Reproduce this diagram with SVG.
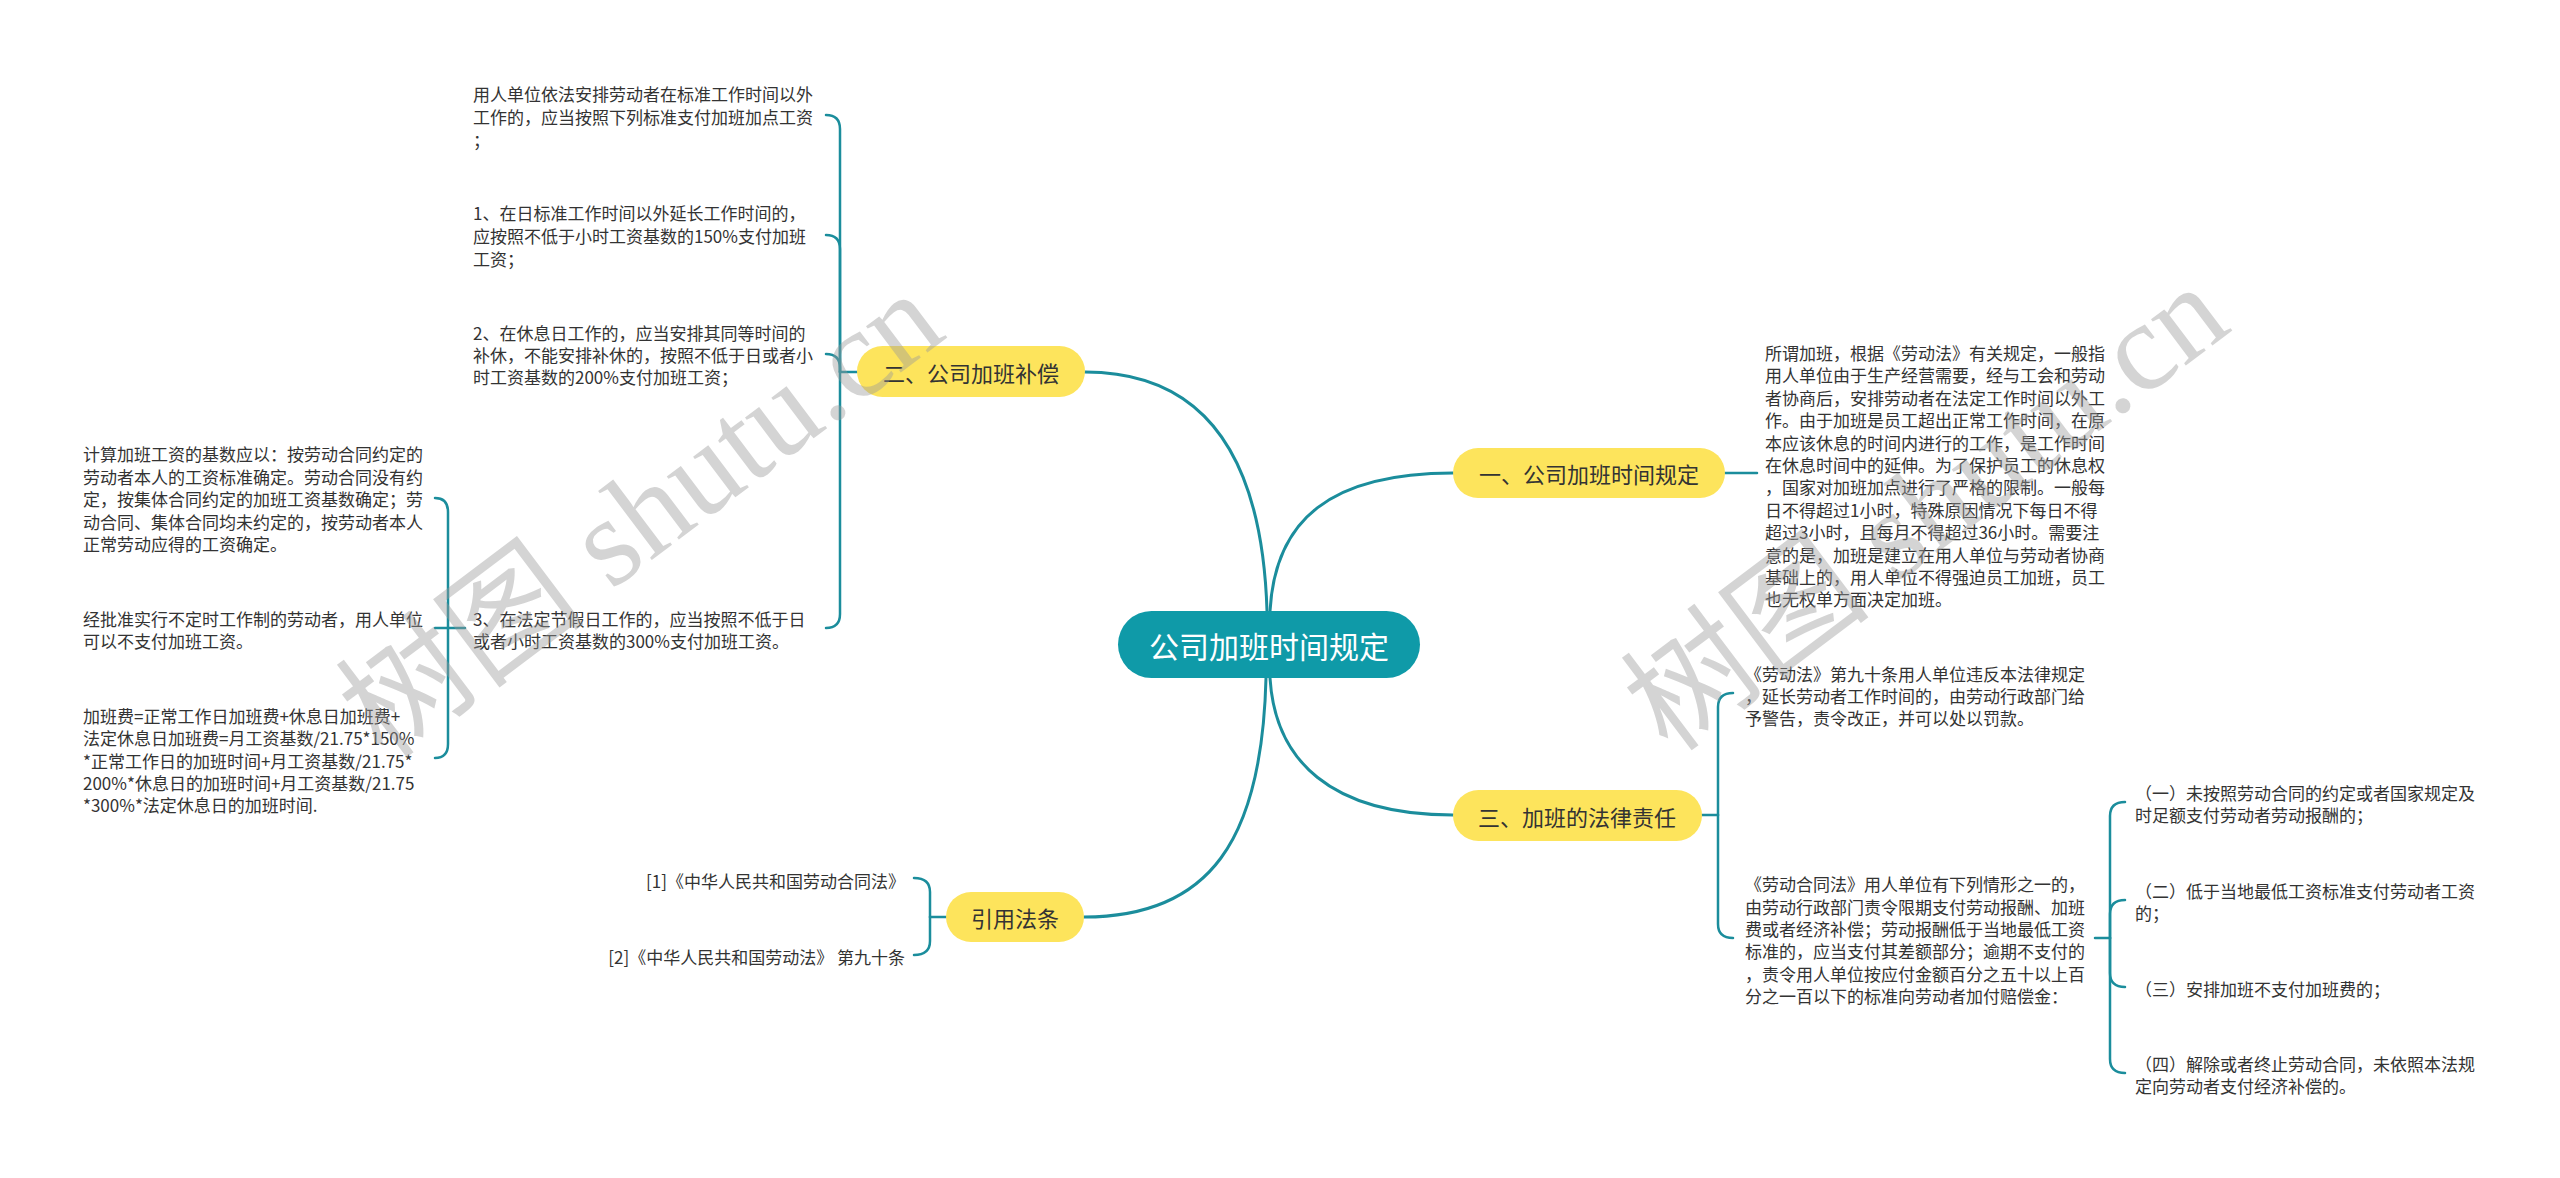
<svg xmlns="http://www.w3.org/2000/svg" width="2560" height="1178" viewBox="0 0 2560 1178">
<style>
.bg{fill:#ffffff}
.main{fill:none;stroke:#1b8d9c;stroke-width:3;stroke-linecap:round}
.sub{fill:none;stroke:#1b8d9c;stroke-width:2.5;stroke-linecap:round}
.root rect{fill:#0f9aa8}
.root text{fill:#ffffff;font-family:"Noto Sans CJK SC","Noto Sans",sans-serif;font-size:30px;text-anchor:middle;dominant-baseline:central}
.l1 rect{fill:#fde45c}
.l1 text{fill:#333333;font-family:"Noto Sans CJK SC","Noto Sans",sans-serif;font-size:22px;text-anchor:middle;dominant-baseline:central}
.leaf text{fill:#333333;font-family:"Noto Sans CJK SC","Noto Sans",sans-serif;font-size:17px;dominant-baseline:central}
.wm{fill:#9a9a9a;opacity:0.42;font-family:"Liberation Serif","Noto Sans CJK SC",serif;font-size:126px;text-anchor:middle;dominant-baseline:central}
</style>
<rect class="bg" x="0" y="0" width="2560" height="1178"/>

<g id="connectors">
  <path class="main" d="M1267,611 C1262,450 1200,372 1085,372"/>
  <path class="main" d="M1270,611 C1275,520 1330,473 1453,473"/>
  <path class="main" d="M1270,678 C1275,760 1330,815 1453,815"/>
  <path class="main" d="M1266,678 C1262,840 1210,917 1084,917"/>

  <path class="sub" d="M857,372 H840"/>
  <path class="sub" d="M840,372 V129 Q840,115 826,115"/>
  <path class="sub" d="M840,372 V249 Q840,235 826,235"/>
  <path class="sub" d="M840,372 V368 Q840,354 826,354"/>
  <path class="sub" d="M840,372 V614 Q840,628 826,628"/>

  <path class="sub" d="M465,628 H435"/>
  <path class="sub" d="M448,628 V512 Q448,498 435,498"/>
  <path class="sub" d="M448,628 V744 Q448,758 435,758"/>

  <path class="sub" d="M1725,473 H1757"/>

  <path class="sub" d="M1702,815 H1718"/>
  <path class="sub" d="M1718,815 V707 Q1718,693 1733,693"/>
  <path class="sub" d="M1718,815 V924 Q1718,938 1733,938"/>

  <path class="sub" d="M2095,938 H2110"/>
  <path class="sub" d="M2110,938 V816 Q2110,802 2125,802"/>
  <path class="sub" d="M2110,938 V914 Q2110,900 2125,900"/>
  <path class="sub" d="M2110,938 V973 Q2110,987 2125,987"/>
  <path class="sub" d="M2110,938 V1059 Q2110,1073 2125,1073"/>

  <path class="sub" d="M946,917 H930"/>
  <path class="sub" d="M930,917 V892 Q930,878 914,878"/>
  <path class="sub" d="M930,917 V941 Q930,955 914,955"/>
</g>

<g id="root" class="root">
  <rect x="1118" y="611" width="302" height="67" rx="33.5"/>
  <text x="1269" y="645">公司加班时间规定</text>
</g>

<g id="n1" class="l1">
  <rect x="1453" y="448" width="272" height="50" rx="25"/>
  <text x="1589" y="473">一、公司加班时间规定</text>
</g>
<g id="n2" class="l1">
  <rect x="857" y="346" width="228" height="51" rx="25.5"/>
  <text x="971" y="372">二、公司加班补偿</text>
</g>
<g id="n3" class="l1">
  <rect x="1453" y="790" width="249" height="51" rx="25.5"/>
  <text x="1577" y="816">三、加班的法律责任</text>
</g>
<g id="n4" class="l1">
  <rect x="946" y="892" width="138" height="50" rx="25"/>
  <text x="1015" y="917">引用法条</text>
</g>

<g id="n1-1" class="leaf">
  <text>
    <tspan x="1765" y="352">所谓加班，根据《劳动法》有关规定，一般指</tspan>
    <tspan x="1765" y="374">用人单位由于生产经营需要，经与工会和劳动</tspan>
    <tspan x="1765" y="397">者协商后，安排劳动者在法定工作时间以外工</tspan>
    <tspan x="1765" y="419">作。由于加班是员工超出正常工作时间，在原</tspan>
    <tspan x="1765" y="442">本应该休息的时间内进行的工作，是工作时间</tspan>
    <tspan x="1765" y="464">在休息时间中的延伸。为了保护员工的休息权</tspan>
    <tspan x="1765" y="486">，国家对加班加点进行了严格的限制。一般每</tspan>
    <tspan x="1765" y="509">日不得超过1小时，特殊原因情况下每日不得</tspan>
    <tspan x="1765" y="531">超过3小时，且每月不得超过36小时。需要注</tspan>
    <tspan x="1765" y="554">意的是，加班是建立在用人单位与劳动者协商</tspan>
    <tspan x="1765" y="576">基础上的，用人单位不得强迫员工加班，员工</tspan>
    <tspan x="1765" y="598">也无权单方面决定加班。</tspan>
  </text>
</g>

<g id="n2-1" class="leaf">
  <text>
    <tspan x="473" y="93">用人单位依法安排劳动者在标准工作时间以外</tspan>
    <tspan x="473" y="116">工作的，应当按照下列标准支付加班加点工资</tspan>
    <tspan x="473" y="139">；</tspan>
  </text>
</g>
<g id="n2-2" class="leaf">
  <text>
    <tspan x="473" y="212">1、在日标准工作时间以外延长工作时间的，</tspan>
    <tspan x="473" y="235">应按照不低于小时工资基数的150%支付加班</tspan>
    <tspan x="473" y="258">工资；</tspan>
  </text>
</g>
<g id="n2-3" class="leaf">
  <text>
    <tspan x="473" y="332">2、在休息日工作的，应当安排其同等时间的</tspan>
    <tspan x="473" y="354">补休，不能安排补休的，按照不低于日或者小</tspan>
    <tspan x="473" y="376">时工资基数的200%支付加班工资；</tspan>
  </text>
</g>
<g id="n2-4" class="leaf">
  <text>
    <tspan x="473" y="618">3、在法定节假日工作的，应当按照不低于日</tspan>
    <tspan x="473" y="640">或者小时工资基数的300%支付加班工资。</tspan>
  </text>
</g>

<g id="n2-4-1" class="leaf">
  <text>
    <tspan x="83" y="453">计算加班工资的基数应以：按劳动合同约定的</tspan>
    <tspan x="83" y="476">劳动者本人的工资标准确定。劳动合同没有约</tspan>
    <tspan x="83" y="498">定，按集体合同约定的加班工资基数确定；劳</tspan>
    <tspan x="83" y="521">动合同、集体合同均未约定的，按劳动者本人</tspan>
    <tspan x="83" y="543">正常劳动应得的工资确定。</tspan>
  </text>
</g>
<g id="n2-4-2" class="leaf">
  <text>
    <tspan x="83" y="618">经批准实行不定时工作制的劳动者，用人单位</tspan>
    <tspan x="83" y="640">可以不支付加班工资。</tspan>
  </text>
</g>
<g id="n2-4-3" class="leaf">
  <text>
    <tspan x="83" y="715">加班费=正常工作日加班费+休息日加班费+</tspan>
    <tspan x="83" y="737">法定休息日加班费=月工资基数/21.75*150%</tspan>
    <tspan x="83" y="760">*正常工作日的加班时间+月工资基数/21.75*</tspan>
    <tspan x="83" y="782">200%*休息日的加班时间+月工资基数/21.75</tspan>
    <tspan x="83" y="804">*300%*法定休息日的加班时间.</tspan>
  </text>
</g>

<g id="n3-1" class="leaf">
  <text>
    <tspan x="1745" y="673">《劳动法》第九十条用人单位违反本法律规定</tspan>
    <tspan x="1745" y="695">，延长劳动者工作时间的，由劳动行政部门给</tspan>
    <tspan x="1745" y="717">予警告，责令改正，并可以处以罚款。</tspan>
  </text>
</g>
<g id="n3-2" class="leaf">
  <text>
    <tspan x="1745" y="883">《劳动合同法》用人单位有下列情形之一的，</tspan>
    <tspan x="1745" y="906">由劳动行政部门责令限期支付劳动报酬、加班</tspan>
    <tspan x="1745" y="928">费或者经济补偿；劳动报酬低于当地最低工资</tspan>
    <tspan x="1745" y="950">标准的，应当支付其差额部分；逾期不支付的</tspan>
    <tspan x="1745" y="973">，责令用人单位按应付金额百分之五十以上百</tspan>
    <tspan x="1745" y="995">分之一百以下的标准向劳动者加付赔偿金：</tspan>
  </text>
</g>

<g id="n3-2-1" class="leaf">
  <text>
    <tspan x="2135" y="792">（一）未按照劳动合同的约定或者国家规定及</tspan>
    <tspan x="2135" y="814">时足额支付劳动者劳动报酬的；</tspan>
  </text>
</g>
<g id="n3-2-2" class="leaf">
  <text>
    <tspan x="2135" y="890">（二）低于当地最低工资标准支付劳动者工资</tspan>
    <tspan x="2135" y="912">的；</tspan>
  </text>
</g>
<g id="n3-2-3" class="leaf">
  <text>
    <tspan x="2135" y="988">（三）安排加班不支付加班费的；</tspan>
  </text>
</g>
<g id="n3-2-4" class="leaf">
  <text>
    <tspan x="2135" y="1063">（四）解除或者终止劳动合同，未依照本法规</tspan>
    <tspan x="2135" y="1085">定向劳动者支付经济补偿的。</tspan>
  </text>
</g>

<g id="n4-1" class="leaf">
  <text x="905" y="880" text-anchor="end">[1]《中华人民共和国劳动合同法》</text>
</g>
<g id="n4-2" class="leaf">
  <text x="905" y="956" text-anchor="end">[2]《中华人民共和国劳动法》 第九十条</text>
</g>

<g id="watermarks">
  <text class="wm" x="641" y="515" transform="rotate(-37 641 515)">树图 shutu.cn</text>
  <text class="wm" x="1926" y="508" transform="rotate(-37 1926 508)">树图 shutu.cn</text>
</g>
</svg>
